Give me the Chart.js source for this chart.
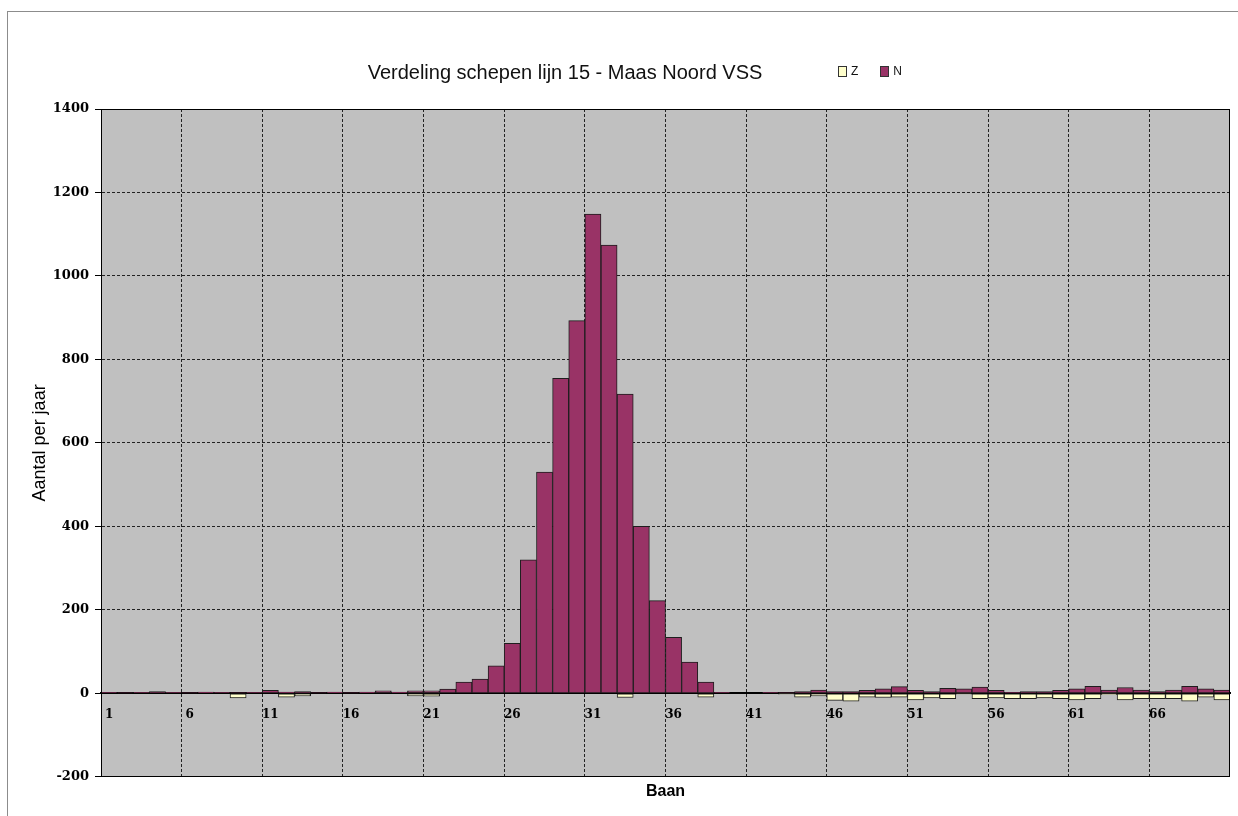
<!DOCTYPE html>
<html>
<head>
<meta charset="utf-8">
<title>Verdeling schepen lijn 15 - Maas Noord VSS</title>
<script src="https://cdn.jsdelivr.net/npm/chart.js@4.4.0/dist/chart.umd.min.js"></script>
<style>
  html, body { margin: 0; padding: 0; background: #fff; }
  #wrap { position: relative; width: 1238px; height: 816px; overflow: hidden; }
  #frame { position: absolute; left: 7px; top: 11px; width: 1300px; height: 900px;
           border-left: 1px solid #8c8c8c; border-top: 1px solid #8c8c8c; }
  #chart { position: absolute; left: 0; top: 0; }
  #title { position: absolute; left: 0; top: 61px; width: 1130px; text-align: center;
           font: 20px "Liberation Sans", Arial, sans-serif; color: #111; }
  #legend { position: absolute; left: 838px; top: 64px; display: flex; align-items: center;
            font: 12px "Liberation Sans", Arial, sans-serif; color: #111; }
  .item { display: flex; align-items: center; margin-right: 22px; }
  .box { width: 7px; height: 9px; border: 1px solid #333; margin-right: 4px; }
</style>
</head>
<body>
<div id="wrap">
  <div id="frame"></div>
  <canvas id="chart" width="1238" height="816"></canvas>
  <div id="title">Verdeling schepen lijn 15 - Maas Noord VSS</div>
  <div id="legend"></div>
</div>
<script>
// baan 1..70
const baan = [1, 2, 3, 4, 5, 6, 7, 8, 9, 10,
  11, 12, 13, 14, 15, 16, 17, 18, 19, 20,
  21, 22, 23, 24, 25, 26, 27, 28, 29, 30,
  31, 32, 33, 34, 35, 36, 37, 38, 39, 40,
  41, 42, 43, 44, 45, 46, 47, 48, 49, 50,
  51, 52, 53, 54, 55, 56, 57, 58, 59, 60,
  61, 62, 63, 64, 65, 66, 67, 68, 69, 70];

// Z is plotted below zero
const zValues = [0, 0, 0, 0, 0, 0, 0, 0, -11, 0,
  0, -9, -6, 0, 0, 0, 0, 0, 0, -6,
  -7, 0, 0, 0, 0, 0, 0, 0, 0, 0,
  0, 0, -10, 0, 0, 0, 0, -9, 0, 0,
  0, 0, -2, -9, -6, -17, -19, -9, -10, -9,
  -16, -11, -13, -2, -13, -11, -13, -13, -11, -13,
  -16, -13, -3, -16, -13, -13, -13, -19, -9, -16];

const nValues = [2, 1, 2, 4, 2, 1, 3, 2, 1, 2,
  7, 3, 4, 1, 3, 1, 3, 6, 3, 6,
  6, 10, 27, 34, 66, 120, 320, 530, 755, 893,
  1148, 1074, 717, 400, 222, 134, 75, 27, 2, 0,
  0, 2, 1, 4, 8, 4, 4, 7, 11, 16,
  7, 4, 12, 11, 15, 7, 2, 4, 4, 7,
  11, 17, 8, 14, 8, 4, 8, 17, 11, 8];

const yMin = -200;
const yMax = 1400;
const yStep = 200;
const labelEvery = 5;

// grey plot area + black frame round it
const plotArea = {
  id: 'plotArea',
  beforeDraw(chart) {
    const {ctx, chartArea: a} = chart;
    ctx.save();
    ctx.fillStyle = '#c0c0c0';
    ctx.fillRect(a.left, a.top, a.width, a.height);
    ctx.restore();
  },
  afterDraw(chart) {
    const {ctx, chartArea: a} = chart;
    ctx.save();
    ctx.strokeStyle = '#000';
    ctx.lineWidth = 1;
    ctx.strokeRect(Math.round(a.left) + 0.5, Math.round(a.top) + 0.5,
                   Math.round(a.width) - 1, Math.round(a.height) - 1);
    ctx.restore();
  }
};

const barStyle = {
  borderColor: '#1e1e1e',
  borderWidth: 1,
  borderSkipped: false,
  barPercentage: 1,
  categoryPercentage: 1
};

const chart = new Chart(document.getElementById('chart'), {
  type: 'bar',
  data: {
    labels: baan,
    datasets: [
      Object.assign({label: 'Z', data: zValues, backgroundColor: '#ffffcc'}, barStyle),
      Object.assign({label: 'N', data: nValues, backgroundColor: '#993366'}, barStyle)
    ]
  },
  options: {
    responsive: false,
    animation: false,
    devicePixelRatio: 1,
    layout: {padding: {top: 109, right: 8, bottom: 0, left: 0}},
    plugins: {
      legend: {display: false},
      tooltip: {enabled: false},
      title: {display: false},
      subtitle: {
        display: true,
        text: 'Baan',
        position: 'bottom',
        fullSize: false,
        color: '#000',
        font: {family: 'Liberation Sans', size: 16, weight: 'bold'},
        padding: {top: 5, bottom: 15}
      }
    },
    scales: {
      x: {
        stacked: true,
        position: {y: 0},
        offset: true,
        grid: {
          offset: true,
          drawTicks: false,
          lineWidth: 1,
          color: (c) => (c.index > 0 && c.index % labelEvery === 0) ? '#222' : 'rgba(0,0,0,0)'
        },
        border: {display: true, color: '#000', width: 2, dash: [3, 2]},
        ticks: {
          autoSkip: false,
          maxRotation: 0,
          padding: 14,
          color: '#000',
          font: {family: 'DejaVu Serif', size: 12, weight: 'bold'},
          callback: (v, i) => (i % labelEvery === 0 ? String(baan[i]) : '')
        }
      },
      y: {
        stacked: true,
        min: yMin,
        max: yMax,
        afterFit: (s) => { s.width = 101; },
        ticks: {
          stepSize: yStep,
          padding: 6,
          color: '#000',
          font: {family: 'DejaVu Serif', size: 13, weight: 'bold'},
          callback: (v) => String(v)
        },
        grid: {
          color: '#222',
          lineWidth: 1,
          tickColor: '#000',
          tickLength: 6,
          tickBorderDash: []
        },
        border: {display: true, color: '#000', width: 1, dash: [3, 2]},
        title: {
          display: true,
          text: 'Aantal per jaar',
          color: '#000',
          font: {family: 'Liberation Sans', size: 18},
          padding: {top: 29, bottom: 0}
        }
      }
    }
  },
  plugins: [plotArea]
});

// legend next to the title, like the original sheet
const legendEl = document.getElementById('legend');
chart.data.datasets.forEach((ds) => {
  const item = document.createElement('div');
  item.className = 'item';
  const box = document.createElement('span');
  box.className = 'box';
  box.style.background = ds.backgroundColor;
  item.appendChild(box);
  item.appendChild(document.createTextNode(ds.label));
  legendEl.appendChild(item);
});
</script>
</body>
</html>
